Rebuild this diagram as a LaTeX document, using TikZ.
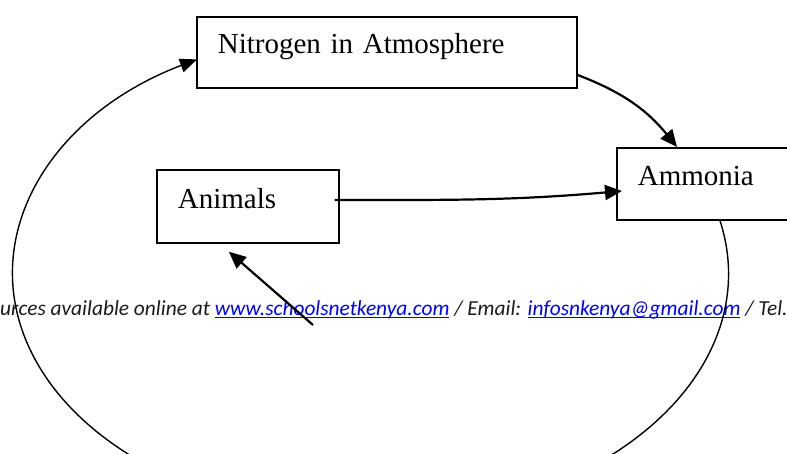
\documentclass[tikz,border=0pt]{standalone}
\usepackage{fontspec}
\setmainfont{Liberation Serif}
\newfontfamily\footfont{Carlito}
\usetikzlibrary{arrows.meta}
\definecolor{linkblue}{RGB}{0,0,255}
\definecolor{foottext}{RGB}{26,26,26}
\newcommand\ulk[1]{\setbox0\hbox{#1}\rlap{\rule[-3pt]{\wd0}{1.2pt}}\box0}
\tikzset{
  box/.style={draw, line width=1.7pt, anchor=north west, inner xsep=21pt, inner ysep=0pt,
    align=left, font=\fontsize{29}{34}\selectfont, text depth=34pt},
  arr/.style={line width=2.2pt, -{Triangle[length=17pt,width=15pt]}},
  loop/.style={line width=1.4pt, -{Triangle[length=17pt,width=14pt]}},
}
\begin{document}
\begin{tikzpicture}[x=1pt,y=1pt]
\useasboundingbox (0,0) rectangle (787,453);
\clip (0,0) rectangle (787,453);
% boxes
\node[box, text width=338pt, text height=37pt] (nit) at (196,437) {Nitrogen in Atmosphere};
\node[box, text width=140pt, text height=39pt] (ani) at (156,284) {Animals};
\node[box, text width=172pt, text height=38pt] (amm) at (616,306) {Ammonia};
% footer text
\node[anchor=base west, inner sep=0pt, text=foottext, font=\footfont\itshape\fontsize{21.4}{25}\selectfont] (foot) at (0,138)
  {urces available online at {\color{linkblue}\ulk{www.schoolsnetkenya.com}} / Email: {\color{linkblue}\ulk{infosnkenya@gmail.com}} / Tel.};
% connectors
\draw[arr] ([yshift=-59pt]nit.north east) to[bend left=15] ([xshift=61pt]amm.north west);
\draw[arr] ([xshift=-5pt,yshift=-31pt]ani.north east) to[out=0,in=185] ([xshift=6pt,yshift=-44pt]amm.north west);
\coordinate (tail) at (313,128);
\draw[arr] (tail) to ([xshift=-19pt,yshift=-8pt]ani.south);
\draw[loop] ([xshift=104pt]amm.south west) arc[start angle=12.5, end angle=-241, x radius=358pt, y radius=245pt];
\end{tikzpicture}
\end{document}
